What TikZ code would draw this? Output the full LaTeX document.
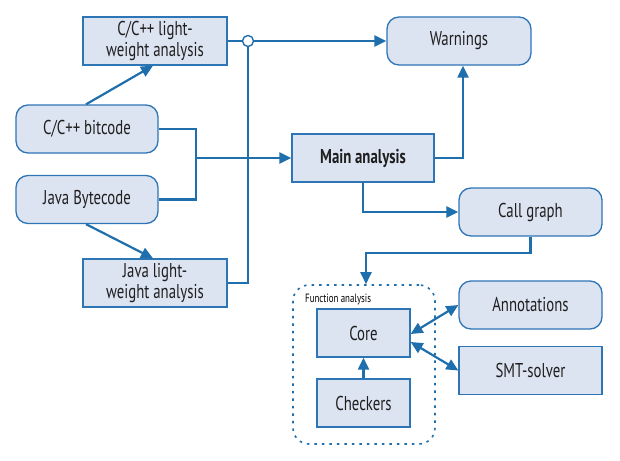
\documentclass[tikz,border=0pt]{standalone}
\usepackage{fontspec}
\setmainfont[FakeStretch=0.74]{PT Sans}
\usetikzlibrary{arrows.meta,calc,fit}
\definecolor{bfill}{RGB}{220,227,241}
\definecolor{bdraw}{RGB}{46,117,182}
\definecolor{lcol}{RGB}{31,111,173}
\begin{document}
\begin{tikzpicture}[x=1pt,y=-1pt,
  box/.style={draw=bdraw,fill=bfill,line width=1.3pt,minimum width=144pt,minimum height=48pt,inner sep=0pt,align=center,font=\fontsize{20}{21}\selectfont,text=black!88},
  rbox/.style={box,rounded corners=12pt},
  sbox/.style={box,minimum width=93pt},
  conn/.style={draw=lcol,line width=2.2pt},
  arr/.style={conn,-{Triangle[length=12pt,width=11pt]}},
  darr/.style={conn,{Triangle[length=12pt,width=11pt]}-{Triangle[length=12pt,width=11pt]}}]
\useasboundingbox (0,0) rectangle (620,460);
\node[box]  (cclw)  at (155,41)   {C/C++ light-\\weight analysis};
\node[rbox,minimum width=142pt] (ccbc)  at (87,129)   {C/C++ bitcode};
\node[rbox,minimum width=142pt] (javabc) at (87,199.5) {Java Bytecode};
\node[box]  (javalw) at (155,283) {Java light-\\weight analysis};
\node[box,minimum width=142pt,font=\fontsize{20}{21}\selectfont\bfseries] (main) at (363,158) {Main analysis};
\node[rbox] (warn)  at (459,41)   {Warnings};
\node[rbox,minimum width=143pt] (call)  at (530.5,212) {Call graph};
\node[rbox,minimum width=143pt] (annot) at (530.5,305) {Annotations};
\node[box,minimum width=143pt]  (smt)   at (530.5,370.5) {SMT-solver};
\node[sbox] (core)  at (363.5,333) {Core};
\node[sbox] (check) at (363.5,403) {Checkers};
\node[draw=lcol,line width=1.6pt,dash pattern=on 2.5pt off 5pt,rounded corners=16pt,minimum width=142pt,minimum height=159pt,inner sep=0pt] (fbox) at (364,364.5) {};
\node[font=\fontsize{12}{13}\selectfont,anchor=west,inner sep=0pt] (flabel) at (305,299) {Function analysis};
% hop
\node[circle,draw=lcol,line width=1.4pt,fill=white,minimum size=11pt,inner sep=0pt] (hop) at (248,41) {};
% connectors
\draw[arr] ($(ccbc.north)+(-1,0)$) -- ($(cclw.south)+(-2,0)$);
\draw[arr] ($(javabc.south)+(-1,0)$) -- ($(javalw.north)+(-2,0)$);
\coordinate (j) at (196,158);
\draw[conn] (ccbc.east) -| (j) |- (javabc.east);
\draw[arr] (j) -- (main.west);
\draw[conn] (cclw.east) -- (hop.west);
\draw[arr] (hop.east) -- (warn.west);
\draw[conn] (javalw.east) -| (hop.south);
\draw[arr] (main.east) -| ($(warn.south)+(4,0)$);
\draw[arr] (main.south) |- (call.west);
\coordinate (k) at (366,253);
\draw[arr] (call.south) |- (k) -- (k |- fbox.north);
\draw[darr] ($(core.east)+(0,1)$) -- (annot.west);
\draw[darr] ($(core.east)+(0,9)$) -- (smt.west);
\draw[arr] (check.north) -- (core.south);
\end{tikzpicture}
\end{document}
